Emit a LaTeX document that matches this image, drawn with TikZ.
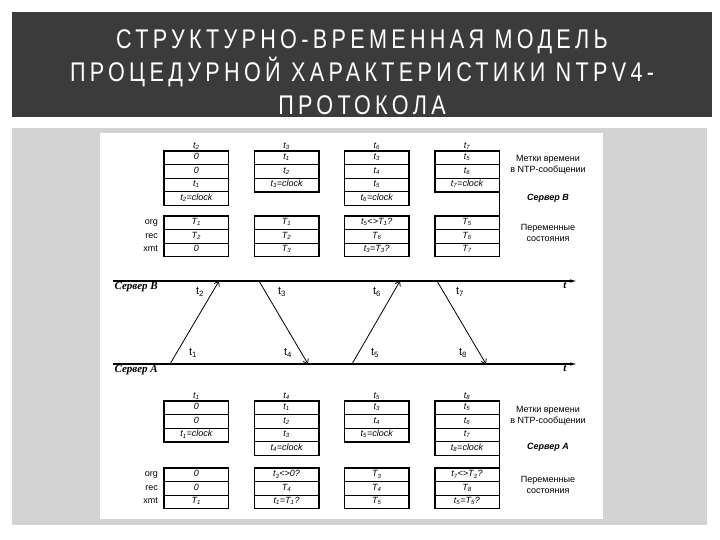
\documentclass[tikz,border=0pt]{standalone}
\usepackage{fontspec}
\setmainfont{Liberation Serif}
\setsansfont{Liberation Sans}
\newfontfamily\titlefont[LetterSpace=16,FakeStretch=0.8]{Liberation Sans}
\usetikzlibrary{shapes,arrows,positioning,arrows.meta,calc}

\definecolor{titlegray}{HTML}{3B3B3B}
\definecolor{framegray}{HTML}{D3D3D3}

\newcommand{\tsm}[1]{t\textsubscript{#1}}
\newcommand{\Tsm}[1]{T\textsubscript{#1}}
% one strut per table row, so all rows get the same height
\newcommand{\rs}{\rule[-2.4pt]{0pt}{8.6pt}}
\newcommand{\rowsthree}[3]{\rs#1\nodepart{two}\rs#2\nodepart{three}\rs#3}
\newcommand{\rowsfour}[4]{\rs#1\nodepart{two}\rs#2\nodepart{three}\rs#3\nodepart{four}\rs#4}

\begin{document}
\begin{tikzpicture}[
    x=1pt, y=-1pt,
    node distance=25.5pt,
    >=stealth,
    % table styles
    pkt/.style={rectangle split, draw, line width=0.7pt, minimum width=64pt, inner ysep=2pt, inner xsep=2pt, font=\sffamily\itshape\fontsize{9}{9}\selectfont},
    hdr/.style={inner sep=1pt, font=\sffamily\itshape\fontsize{9}{9}\selectfont},
    var/.style={anchor=base east, inner sep=0pt, font=\sffamily\fontsize{9}{10}\selectfont},
    % time axes and messages
    axis/.style={line width=1.3pt, -{Latex[length=8pt,width=3.5pt]}},
    msg/.style={line width=0.8pt, -{Straight Barb[length=4pt,width=6pt]}},
    tlab/.style={inner sep=0pt, font=\sffamily\fontsize{11}{12}\selectfont},
    srv/.style={inner sep=1.5pt, font=\rmfamily\bfseries\itshape\fontsize{11}{12}\selectfont},
    note/.style={align=center, inner sep=0pt, font=\sffamily\fontsize{9}{11.5}\selectfont},
    srvnote/.style={inner sep=0pt, font=\sffamily\bfseries\itshape\fontsize{9}{11}\selectfont}
  ]

  \useasboundingbox (0,0) rectangle (720,540);
  \fill[white] (0,0) rectangle (720,540);

  % Title
  \fill[titlegray] (12,12) rectangle (712,117);
  \node[text=white, align=center, font=\titlefont\fontsize{27}{33}\selectfont] (title) at (362,72)
    {СТРУКТУРНО-ВРЕМЕННАЯ МОДЕЛЬ\\ПРОЦЕДУРНОЙ ХАРАКТЕРИСТИКИ NTPV4-\\ПРОТОКОЛА};

  % Frame
  \fill[framegray] (12,128) rectangle (707,525);
  \fill[white] (100,133) rectangle (603,519);

  % Server B: packets
  \node[pkt, rectangle split parts=4, anchor=north west] (b1) at (164,151)
    {\rowsfour{0}{0}{\tsm1}{\tsm2=clock}};
  \node[pkt, rectangle split parts=3, right=of b1.north east, anchor=north west] (b2)
    {\rowsthree{\tsm1}{\tsm2}{\tsm3=clock}};
  \node[pkt, rectangle split parts=4, right=of b2.north east, anchor=north west] (b3)
    {\rowsfour{\tsm3}{\tsm4}{\tsm5}{\tsm6=clock}};
  \node[pkt, rectangle split parts=3, right=of b3.north east, anchor=north west] (b4)
    {\rowsthree{\tsm5}{\tsm6}{\tsm7=clock}};
  \node[hdr, above=0pt of b1] (hb1) {\tsm2};
  \node[hdr, above=0pt of b2] (hb2) {\tsm3};
  \node[hdr, above=0pt of b3] (hb3) {\tsm6};
  \node[hdr, above=0pt of b4] (hb4) {\tsm7};

  % Server B: state variables
  \node[pkt, rectangle split parts=3, anchor=north west] (sb1) at (164,216)
    {\rowsthree{\Tsm1}{\Tsm2}{0}};
  \node[pkt, rectangle split parts=3, right=of sb1] (sb2)
    {\rowsthree{\Tsm1}{\Tsm2}{\Tsm3}};
  \node[pkt, rectangle split parts=3, right=of sb2] (sb3)
    {\rowsthree{\tsm5<>\Tsm1?}{\Tsm6}{\tsm3=\Tsm3?}};
  \node[pkt, rectangle split parts=3, right=of sb3] (sb4)
    {\rowsthree{\Tsm5}{\Tsm6}{\Tsm7}};
  \draw[line width=1.3pt] (b4.south east) -- (sb4.north east);

  \node[var] (orgB) at ([xshift=-6pt]sb1.west |- sb1.text) {org};
  \node[var] (recB) at ([xshift=-6pt]sb1.west |- sb1.two) {rec};
  \node[var] (xmtB) at ([xshift=-6pt]sb1.west |- sb1.three) {xmt};

  % Time axes
  \coordinate (bS) at (113,281);
  \coordinate (bE) at (578,281);
  \coordinate (aS) at (113,364);
  \coordinate (aE) at (578,364);
  \draw[axis] (bS) -- (bE);
  \draw[axis] (aS) -- (aE);
  \node[srv, anchor=north west] (srvB) at (bS) {Сервер B};
  \node[srv, anchor=north west] (srvA) at (aS) {Сервер A};
  \node[srv, anchor=north] (axB) at ([xshift=-13pt]bE) {t};
  \node[srv, anchor=north] (axA) at ([xshift=-13pt]aE) {t};

  % Messages
  \coordinate (m1) at (170,364);
  \coordinate (m2) at (219,281);
  \coordinate (m3) at (259,281);
  \coordinate (m4) at (308,364);
  \coordinate (m5) at (352,364);
  \coordinate (m6) at (400,281);
  \coordinate (m7) at (437,281);
  \coordinate (m8) at (486,364);
  \draw[msg] (m1) -- (m2);
  \draw[msg] (m3) -- (m4);
  \draw[msg] (m5) -- (m6);
  \draw[msg] (m7) -- (m8);
  \node[tlab] (l1) at (193,353) {\tsm1};
  \node[tlab] (l2) at (200,292) {\tsm2};
  \node[tlab] (l3) at (282,292) {\tsm3};
  \node[tlab] (l4) at (288,353) {\tsm4};
  \node[tlab] (l5) at (375,353) {\tsm5};
  \node[tlab] (l6) at (377,292) {\tsm6};
  \node[tlab] (l7) at (460,292) {\tsm7};
  \node[tlab] (l8) at (463,353) {\tsm8};

  % Server A: packets
  \node[pkt, rectangle split parts=3, anchor=north west] (a1) at (164,401)
    {\rowsthree{0}{0}{\tsm1=clock}};
  \node[pkt, rectangle split parts=4, right=of a1.north east, anchor=north west] (a2)
    {\rowsfour{\tsm1}{\tsm2}{\tsm3}{\tsm4=clock}};
  \node[pkt, rectangle split parts=3, right=of a2.north east, anchor=north west] (a3)
    {\rowsthree{\tsm3}{\tsm4}{\tsm5=clock}};
  \node[pkt, rectangle split parts=4, right=of a3.north east, anchor=north west] (a4)
    {\rowsfour{\tsm5}{\tsm6}{\tsm7}{\tsm8=clock}};
  \node[hdr, above=0pt of a1] (ha1) {\tsm1};
  \node[hdr, above=0pt of a2] (ha2) {\tsm4};
  \node[hdr, above=0pt of a3] (ha3) {\tsm5};
  \node[hdr, above=0pt of a4] (ha4) {\tsm8};

  % Server A: state variables
  \node[pkt, rectangle split parts=3, anchor=north west] (sa1) at (164,468)
    {\rowsthree{0}{0}{\Tsm1}};
  \node[pkt, rectangle split parts=3, right=of sa1] (sa2)
    {\rowsthree{\tsm3<>0?}{\Tsm4}{\tsm1=\Tsm1?}};
  \node[pkt, rectangle split parts=3, right=of sa2] (sa3)
    {\rowsthree{\Tsm3}{\Tsm4}{\Tsm5}};
  \node[pkt, rectangle split parts=3, right=of sa3] (sa4)
    {\rowsthree{\tsm7<>\Tsm3?}{\Tsm8}{\tsm5=\Tsm5?}};
  \draw[line width=1.3pt] (a4.south east) -- (sa4.north east);

  \node[var] (orgA) at ([xshift=-6pt]sa1.west |- sa1.text) {org};
  \node[var] (recA) at ([xshift=-6pt]sa1.west |- sa1.two) {rec};
  \node[var] (xmtA) at ([xshift=-6pt]sa1.west |- sa1.three) {xmt};

  % thick outer borders
  \foreach \t in {b1,b2,b3,b4,sb1,sb2,sb3,sb4,a1,a2,a3,a4,sa1,sa2,sa3,sa4}
    \draw[line width=1.3pt] (\t.north west) rectangle (\t.south east);

  % Side notes
  \node[note] (tsB) at (548,165) {Метки времени\\в NTP-сообщении};
  \node[srvnote] (nB) at (548,198) {Сервер B};
  \node[note] (vsB) at (548,233) {Переменные\\состояния};
  \node[note] (tsA) at (548,416) {Метки времени\\в NTP-сообщении};
  \node[srvnote] (nA) at (548,447) {Сервер A};
  \node[note] (vsA) at (548,485) {Переменные\\состояния};
\end{tikzpicture}
\end{document}
